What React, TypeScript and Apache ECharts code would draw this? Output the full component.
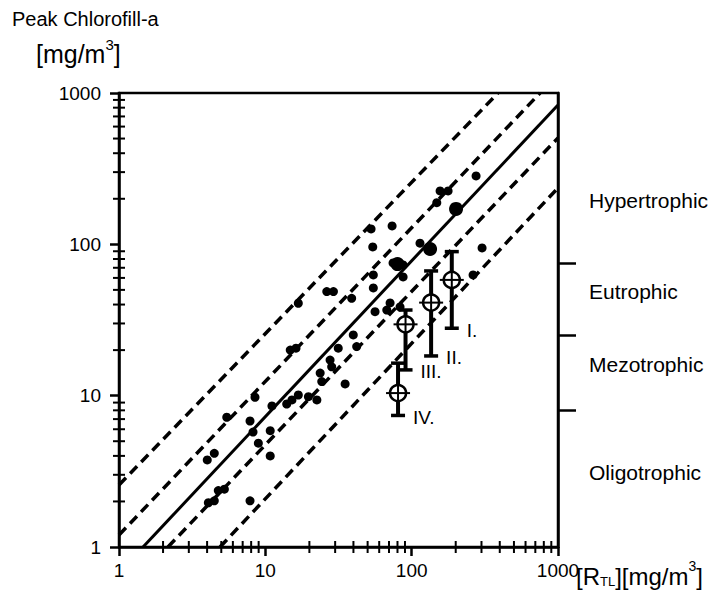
import React, { useEffect, useRef } from "react";
import * as echarts from "echarts";

// Minor ticks of the log axes (2..9 of each decade)
const minorTicks = [
  2, 3, 4, 5, 6, 7, 8, 9,
  20, 30, 40, 50, 60, 70, 80, 90,
  200, 300, 400, 500, 600, 700, 800, 900,
];

// Trophic class boundaries for peak chlorophyll-a and where each class name sits
const trophicBounds = [8, 25, 75];
const trophicNames = ["Oligotrophic", "Mezotrophic", "Eutrophic", "Hypertrophic"];
const trophicLabelAt = [3.1, 16, 48.5, 196];

// Observed lakes: [R_TL (mg/m3), peak chlorophyll-a (mg/m3)]
const lakes: [number, number][] = [
  [4.01, 3.76], [4.48, 4.16], [4.08, 1.96], [4.48, 2.02], [4.77, 2.36], [5.25, 2.41],
  [5.45, 7.2], [7.86, 6.8], [8.24, 5.75], [7.86, 2.02], [8.96, 4.85], [10.8, 5.87],
  [10.8, 4.0], [11.1, 8.55], [14.0, 8.81], [8.5, 9.76], [15.2, 9.37], [16.8, 10.1],
  [19.7, 9.85], [22.5, 9.37], [14.8, 20.0], [16.2, 20.6], [16.8, 40.8], [23.7, 14.1],
  [24.3, 12.4], [27.7, 17.2], [28.4, 15.5], [31.5, 20.6], [35.1, 11.95], [39.9, 25.2],
  [42.1, 21.1], [26.3, 48.7], [29.2, 48.7], [38.9, 44.0], [54.2, 96.1], [52.8, 126.4],
  [73.5, 132.3], [54.7, 62.8], [54.7, 51.5], [74.6, 75.4], [87.4, 73.1], [87.4, 60.9],
  [71.2, 41.0], [83.3, 38.6], [67.6, 36.8], [56.2, 35.9], [114, 101.7], [133.6, 93.2],
  [148.5, 188.6], [156.4, 225.4], [177.4, 225.4], [201, 171.4], [275.5, 283.2],
  [302.8, 94.7], [262.8, 62.8],
];
// Points where several lakes coincide (drawn heavier)
const clusteredLakes: [number, number][] = [[201, 171.4], [133.6, 93.2], [80, 74]];

// Group means with their ranges
const groupNames = ["I.", "II.", "III.", "IV."];
const groupLoad = [188, 135.8, 90.8, 80.7];
const groupMean = [58.2, 41.2, 29.6, 10.4];
const groupLow = [27.9, 18.3, 14.8, 7.4];
const groupHigh = [89.5, 66.7, 36.8, 16.4];

// Regression line and its confidence bands (end points)
const fitLine: [number, number][] = [[1.46, 1], [1000, 834]];
const innerUpper: [number, number][] = [[1, 1.2], [754, 1000]];
const innerLower: [number, number][] = [[2.16, 1], [1000, 505]];
const outerUpper: [number, number][] = [[1, 2.57], [389, 1000]];
const outerLower: [number, number][] = [[4.9, 1], [1000, 236]];

const FONT = '"Liberation Sans", Arial, sans-serif';
const INK = "#000";

export default function App() {
  const ref = useRef<HTMLDivElement>(null);

  useEffect(() => {
    document.body.style.margin = "0";
    if (!ref.current) return;
    const chart = echarts.init(ref.current, null, { renderer: "svg" });

    const logAxisBase = {
      type: "log" as const,
      logBase: 10,
      min: 1,
      max: 1000,
      splitLine: { show: false },
    };

    const fmt = (v: number) => String(Math.round(v));

    const dashed = (data: [number, number][]) => ({
      type: "line",
      data,
      symbol: "none",
      silent: true,
      z: 2,
      lineStyle: { color: INK, width: 3.5, type: [10, 6] },
    });

    // Minor tick marks: short bars centred on the axis lines
    const tickMarks = (data: [number, number][], size: number[]) => ({
      type: "scatter",
      data,
      symbol: "rect",
      symbolSize: size,
      clip: false,
      silent: true,
      z: 6,
      itemStyle: { color: INK, opacity: 1 },
    });

    const groupData = groupLoad.map((x, i) => [x, groupMean[i], groupLow[i], groupHigh[i]]);

    const option: any = {
      animation: false,
      backgroundColor: "#fff",
      textStyle: { fontFamily: FONT, color: INK },
      grid: {
        left: 119,
        right: 164,
        top: 93,
        bottom: 50,
        show: true,
        borderColor: INK,
        borderWidth: 2.5,
        backgroundColor: "transparent",
      },
      xAxis: {
        ...logAxisBase,
        position: "bottom",
        axisLine: { show: true, lineStyle: { color: INK, width: 2.5 } },
        axisTick: { show: true, length: 9, lineStyle: { color: INK, width: 2.5 } },
        axisLabel: {
          color: INK,
          fontSize: 19,
          fontFamily: FONT,
          margin: 14,
          formatter: fmt,
        },
      },
      yAxis: [
        {
          ...logAxisBase,
          position: "left",
          axisLine: { show: true, lineStyle: { color: INK, width: 2.5 } },
          axisTick: { show: true, length: 9, lineStyle: { color: INK, width: 2.5 } },
          axisLabel: {
            color: INK,
            fontSize: 19,
            fontFamily: FONT,
            margin: 18,
            formatter: fmt,
          },
        },
        {
          ...logAxisBase,
          position: "right",
          axisLine: { show: true, lineStyle: { color: INK, width: 2.5 } },
          axisTick: {
            show: true,
            inside: false,
            length: 18,
            customValues: trophicBounds,
            lineStyle: { color: INK, width: 2.5 },
          },
          axisLabel: {
            show: true,
            customValues: trophicLabelAt,
            color: INK,
            fontSize: 21,
            fontFamily: FONT,
            margin: 31,
            align: "left",
            formatter: (v: number) => {
              let best = 0;
              trophicLabelAt.forEach((t, k) => {
                if (Math.abs(Math.log10(t) - Math.log10(v)) < Math.abs(Math.log10(trophicLabelAt[best]) - Math.log10(v))) best = k;
              });
              return trophicNames[best];
            },
          },
        },
      ],
      graphic: [
        {
          type: "text",
          left: 12,
          top: 9,
          style: { text: "Peak Chlorofill-a", font: `20px ${FONT}`, fill: INK },
        },
        {
          type: "text",
          left: 36,
          top: 34,
          style: {
            text: "{b|[mg/m}{p|3}{b|]}",
            fill: INK,
            rich: {
              b: { fontSize: 25, fontFamily: FONT, lineHeight: 32, verticalAlign: "bottom" },
              p: { fontSize: 15, fontFamily: FONT, lineHeight: 32, verticalAlign: "top", padding: [3, 0, 0, 0] },
            },
          },
        },
        {
          type: "text",
          left: 576,
          top: 556,
          style: {
            text: "{b|[R}{s|TL}{b|][mg/m}{p|3}{b|]}",
            fill: INK,
            rich: {
              b: { fontSize: 24, fontFamily: FONT, lineHeight: 32, verticalAlign: "bottom" },
              s: { fontSize: 13, fontFamily: FONT, lineHeight: 32, verticalAlign: "bottom" },
              p: { fontSize: 14, fontFamily: FONT, lineHeight: 32, verticalAlign: "top", padding: [3, 0, 0, 0] },
            },
          },
        },
      ],
      series: [
        dashed(outerUpper),
        dashed(innerUpper),
        {
          type: "line",
          data: fitLine,
          symbol: "none",
          silent: true,
          z: 2,
          lineStyle: { color: INK, width: 3, type: "solid" },
        },
        dashed(innerLower),
        dashed(outerLower),
        {
          type: "scatter",
          data: lakes,
          symbol: "circle",
          symbolSize: 9,
          itemStyle: { color: INK, opacity: 1 },
          z: 3,
        },
        {
          type: "scatter",
          data: clusteredLakes,
          symbol: "circle",
          symbolSize: 14,
          itemStyle: { color: INK, opacity: 1 },
          z: 3,
        },
        tickMarks(minorTicks.map((v) => [v, 1] as [number, number]), [2, 12]),
        tickMarks(minorTicks.map((v) => [1, v] as [number, number]), [12, 2]),
        {
          type: "custom",
          data: groupData,
          z: 5,
          renderItem: (params: any, api: any) => {
            const x = api.value(0);
            const c = api.coord([x, api.value(1)]);
            const lo = api.coord([x, api.value(2)]);
            const hi = api.coord([x, api.value(3)]);
            const r = 8;
            const cx = c[0];
            const stroke = (x1: number, y1: number, x2: number, y2: number, w: number) => ({
              type: "line",
              shape: { x1, y1, x2, y2 },
              style: { stroke: INK, lineWidth: w },
            });
            return {
              type: "group",
              children: [
                stroke(cx, hi[1], cx, c[1] - r, 4),
                stroke(cx, c[1] + r, cx, lo[1], 4),
                stroke(cx - 7, hi[1], cx + 7, hi[1], 3.5),
                stroke(cx - 7, lo[1], cx + 7, lo[1], 3.5),
                {
                  type: "circle",
                  shape: { cx, cy: c[1], r },
                  style: { fill: "#fff", stroke: INK, lineWidth: 2.5 },
                },
                stroke(cx - 12, c[1], cx + 12, c[1], 2),
                stroke(cx, c[1] - r - 1, cx, c[1] + r + 1, 2),
                {
                  type: "text",
                  x: cx + 15,
                  y: lo[1] + 2,
                  style: {
                    text: groupNames[params.dataIndex],
                    fill: INK,
                    font: `19px ${FONT}`,
                    align: "left",
                    textAlign: "left",
                    verticalAlign: "middle",
                    textVerticalAlign: "middle",
                  },
                },
              ],
            };
          },
        },
      ],
    };

    chart.setOption(option);
    return () => chart.dispose();
  }, []);

  return <div ref={ref} style={{ width: 722, height: 597 }} />;
}
